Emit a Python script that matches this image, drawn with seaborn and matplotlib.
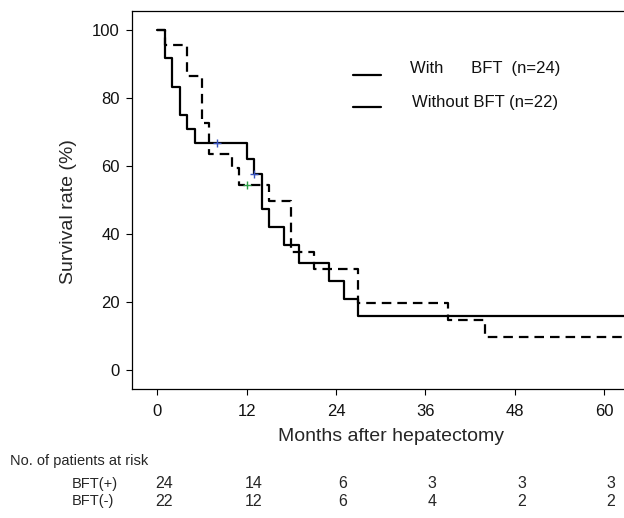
import numpy as np
import pandas as pd
import matplotlib
matplotlib.use('Agg')
import matplotlib.pyplot as plt
import matplotlib.transforms as mtransforms
import seaborn as sns

# Kaplan-Meier steps (months, survival %)
bft_pos_time = [0, 1, 2, 3, 4, 5, 12, 13, 14, 15, 17, 19, 23, 25, 27, 63]
bft_pos_surv = [100, 91.7, 83.3, 75.0, 70.8, 66.7, 62.2, 57.8, 47.3, 42.0, 36.8, 31.5, 26.3, 21.0, 15.8, 15.8]
bft_neg_time = [0, 1, 4, 6, 7, 10, 11, 15, 18, 21, 27, 39, 44, 63]
bft_neg_surv = [100, 95.5, 86.4, 72.7, 63.6, 59.5, 54.5, 49.6, 34.8, 29.8, 19.9, 14.9, 9.9, 9.9]

# censored patients (+ marks)
cens_pos_time = [8, 13]
cens_pos_surv = [66.7, 57.8]
cens_neg_time = [12]
cens_neg_surv = [54.5]

# number at risk table
risk_times = [0, 12, 24, 36, 48, 60]
risk_pos = [24, 14, 6, 3, 3, 3]
risk_neg = [22, 12, 6, 4, 2, 2]

legend_labels = ['With      BFT  (n=24)', 'Without BFT (n=22)']

sns.set_style('ticks')
plt.rcParams['font.family'] = ['Liberation Sans', 'DejaVu Sans']
narrow = ['Liberation Sans Narrow', 'Liberation Sans', 'DejaVu Sans']

df = pd.concat([
    pd.DataFrame({'month': bft_pos_time, 'surv': bft_pos_surv, 'group': 'BFT(+)'}),
    pd.DataFrame({'month': bft_neg_time, 'surv': bft_neg_surv, 'group': 'BFT(-)'}),
], ignore_index=True)

fig = plt.figure(figsize=(6.24, 5.18), dpi=100)
ax = fig.add_axes([0.2115, 0.2485, 0.7885, 0.7303])

sns.lineplot(data=df, x='month', y='surv', style='group',
             dashes={'BFT(+)': '', 'BFT(-)': (4.3, 2.7)},
             color='black', drawstyle='steps-post', estimator=None,
             linewidth=1.6, legend=False, ax=ax)

sns.scatterplot(x=cens_pos_time, y=cens_pos_surv, marker='+', color='#3a55c0',
                s=40, linewidth=1.0, zorder=5, ax=ax)
sns.scatterplot(x=cens_neg_time, y=cens_neg_surv, marker='+', color='#2e9e48',
                s=40, linewidth=1.0, zorder=5, ax=ax)

ax.set_xlim(-3.4, 62.65)
ax.set_ylim(-5.6, 105.6)
ax.set_xticks(risk_times)
ax.set_yticks([0, 20, 40, 60, 80, 100])
ax.spines['right'].set_visible(False)
for s in ['left', 'bottom', 'top']:
    ax.spines[s].set_linewidth(0.9)
    ax.spines[s].set_color('black')
ax.tick_params(direction='out', length=4.3, width=0.8, labelsize=12,
               colors='black')
ax.tick_params(axis='y', pad=4.5)
ax.tick_params(axis='x', pad=6)
for lab in ax.get_xticklabels() + ax.get_yticklabels():
    lab.set_family(narrow)
    lab.set_color('#111111')

ax.set_xlabel('Months after hepatectomy', fontsize=14)
ax.xaxis.set_label_coords(0.527, -0.126)
ax.xaxis.label.set_va('center')
ax.set_ylabel('Survival rate (%)', fontsize=14)
ax.yaxis.set_label_coords(-0.130, 0.4687)
ax.yaxis.label.set_va('center')

# legend drawn by hand, both keys solid as in the original
for i, lab in enumerate(legend_labels):
    yl = [0.831, 0.747][i]
    yt = [0.847, 0.757][i]
    xt = [0.565, 0.569][i]
    ax.plot([0.449, 0.506], [yl, yl], color='black', lw=1.6,
            transform=ax.transAxes)
    ax.text(xt, yt, lab, transform=ax.transAxes, fontsize=12,
            va='center', ha='left', color='#111111')

# number at risk
fig.text(10 / 624, 1 - 460.5 / 518, 'No. of patients at risk', fontsize=10.5,
         va='center', ha='left')
trans = mtransforms.blended_transform_factory(ax.transData, fig.transFigure)
for lab, vals, ypx in [('BFT(+)', risk_pos, 484), ('BFT(-)', risk_neg, 501.5)]:
    fig.text(72 / 624, 1 - ypx / 518, lab, fontsize=10.5, va='center', ha='left')
    for t, v in zip(risk_times, vals):
        ax.text(t + 0.9, 1 - ypx / 518, str(v), transform=trans, fontsize=11.5,
                family=narrow, va='center', ha='center', clip_on=False)

fig.savefig('out.png', dpi=100)
